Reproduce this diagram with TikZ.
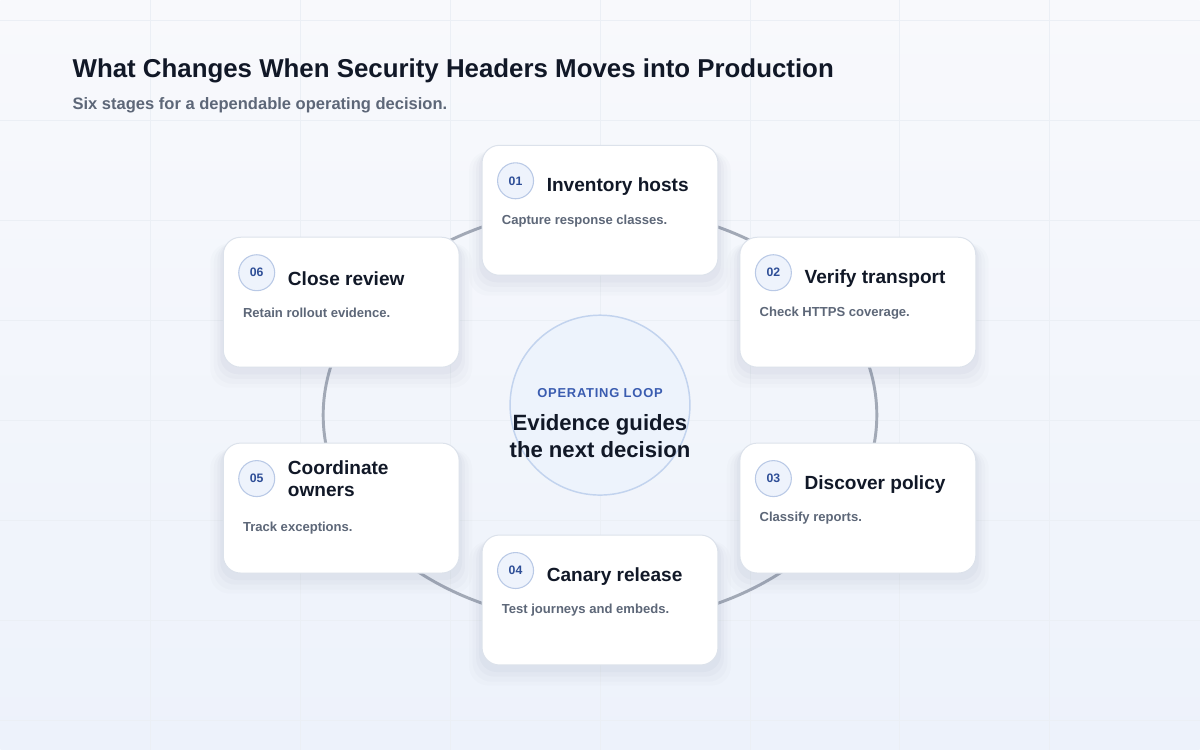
\documentclass[tikz,border=0pt]{standalone}
\usepackage{fontspec}
\setmainfont{Liberation Sans}
\newfontfamily\kickerfont[LetterSpace=6]{Liberation Sans}
\usepackage{xcolor}
\usetikzlibrary{positioning, shadows}

\definecolor{ink}{HTML}{111827}
\definecolor{muted}{HTML}{5D6778}
\definecolor{bgtop}{HTML}{F8F9FC}
\definecolor{bgbottom}{HTML}{EDF2FB}
\definecolor{gridgrey}{HTML}{EBEFF5}
\definecolor{cardline}{HTML}{DCE2EB}
\definecolor{shadowtint}{HTML}{5A6A8C}
\definecolor{badgefill}{HTML}{EEF3FC}
\definecolor{badgeline}{HTML}{B9C9E6}
\definecolor{badgetext}{HTML}{2E4E97}
\definecolor{loopblue}{HTML}{3A5CB0}
\definecolor{loopfill}{HTML}{EDF3FC}
\definecolor{loopline}{HTML}{C2D3EE}
\definecolor{ringgrey}{HTML}{A2A9B6}

\begin{document}
\begin{tikzpicture}[
    x=0.75pt, y=-0.75pt,
    card/.style={
        rectangle,
        rounded corners=13pt,
        draw=cardline,
        line width=0.75pt,
        fill=white,
        minimum width=177pt,
        minimum height=97.5pt,
        general shadow={draw=none, fill=shadowtint, opacity=0.02,
            shadow yshift=-9pt, shadow scale=1.11},
        general shadow={draw=none, fill=shadowtint, opacity=0.025,
            shadow yshift=-8pt, shadow scale=1.08},
        general shadow={draw=none, fill=shadowtint, opacity=0.03,
            shadow yshift=-6pt, shadow scale=1.05},
        general shadow={draw=none, fill=shadowtint, opacity=0.04,
            shadow yshift=-4pt, shadow scale=1.025}
    },
    badge/.style={
        circle,
        draw=badgeline,
        line width=0.8pt,
        fill=badgefill,
        minimum size=27pt,
        inner sep=0pt,
        text=badgetext,
        font=\bfseries\fontsize{9.2}{10}\selectfont
    },
    stage/.style={
        anchor=west,
        inner sep=0pt,
        align=left,
        text=ink,
        font=\bfseries\fontsize{14.3}{16}\selectfont
    },
    note/.style={
        anchor=west,
        inner sep=0pt,
        text=muted,
        font=\bfseries\fontsize{9.8}{12}\selectfont
    },
    ring/.style={draw=ringgrey, line width=2.2pt},
    gridline/.style={draw=gridgrey, line width=0.6pt}
]

% background
\shade[top color=bgtop, bottom color=bgbottom] (0,0) rectangle (1200,750);
\draw[gridline] (150,0) -- (150,750) (300,0) -- (300,750) (450,0) -- (450,750)
    (600,0) -- (600,750) (750,0) -- (750,750) (900,0) -- (900,750) (1050,0) -- (1050,750);
\draw[gridline] (0,20) -- (1200,20) (0,120) -- (1200,120) (0,220) -- (1200,220)
    (0,320) -- (1200,320) (0,420) -- (1200,420) (0,520) -- (1200,520)
    (0,620) -- (1200,620) (0,720) -- (1200,720);
\useasboundingbox (0,0) rectangle (1200,750);

% heading
\node[anchor=base west, inner sep=0pt, text=ink,
    font=\bfseries\fontsize{19.4}{23}\selectfont] (title) at (72,77)
    {What Changes When Security Headers Moves into Production};
\node[anchor=base west, inner sep=0pt, text=muted,
    font=\bfseries\fontsize{12.4}{15}\selectfont] (subtitle) at (72,109)
    {Six stages for a dependable operating decision.};

% loop
\coordinate (hub) at (600,415);
\draw[ring] (hub) ellipse [x radius=277, y radius=208];

\node[circle, draw=loopline, line width=1.1pt, fill=loopfill,
    minimum size=135pt] (loop) at (600,405) {};
\node[text=loopblue, inner sep=0pt,
    font=\kickerfont\bfseries\fontsize{9.7}{11}\selectfont] (kicker) at (600,393)
    {OPERATING LOOP};
\node[text=ink, align=center, inner sep=0pt,
    font=\bfseries\fontsize{16.6}{20.2}\selectfont] (headline) at (600,436)
    {Evidence guides\\the next decision};

% stages
\node[card] (c1) at (600,210) {};
\node[badge] (b1) at ([shift={(34,36)}]c1.north west) {01};
\node[stage] (t1) at ([shift={(65,42)}]c1.north west) {Inventory hosts};
\node[note] (n1) at ([shift={(20,76)}]c1.north west) {Capture response classes.};

\node[card] (c2) at (858,302) {};
\node[badge] (b2) at ([shift={(34,36)}]c2.north west) {02};
\node[stage] (t2) at ([shift={(65,42)}]c2.north west) {Verify transport};
\node[note] (n2) at ([shift={(20,76)}]c2.north west) {Check HTTPS coverage.};

\node[card] (c3) at (858,508) {};
\node[badge] (b3) at ([shift={(34,36)}]c3.north west) {03};
\node[stage] (t3) at ([shift={(65,42)}]c3.north west) {Discover policy};
\node[note] (n3) at ([shift={(20,76)}]c3.north west) {Classify reports.};

\node[card] (c4) at (600,600) {};
\node[badge] (b4) at ([shift={(34,36)}]c4.north west) {04};
\node[stage] (t4) at ([shift={(65,42)}]c4.north west) {Canary release};
\node[note] (n4) at ([shift={(20,76)}]c4.north west) {Test journeys and embeds.};

\node[card] (c5) at (341,508) {};
\node[badge] (b5) at ([shift={(34,36)}]c5.north west) {05};
\node[stage] (t5) at ([shift={(65,36)}]c5.north west) {Coordinate\\owners};
\node[note] (n5) at ([shift={(20,86)}]c5.north west) {Track exceptions.};

\node[card] (c6) at (341,302) {};
\node[badge] (b6) at ([shift={(34,36)}]c6.north west) {06};
\node[stage] (t6) at ([shift={(65,42)}]c6.north west) {Close review};
\node[note] (n6) at ([shift={(20,76)}]c6.north west) {Retain rollout evidence.};

\end{tikzpicture}
\end{document}
